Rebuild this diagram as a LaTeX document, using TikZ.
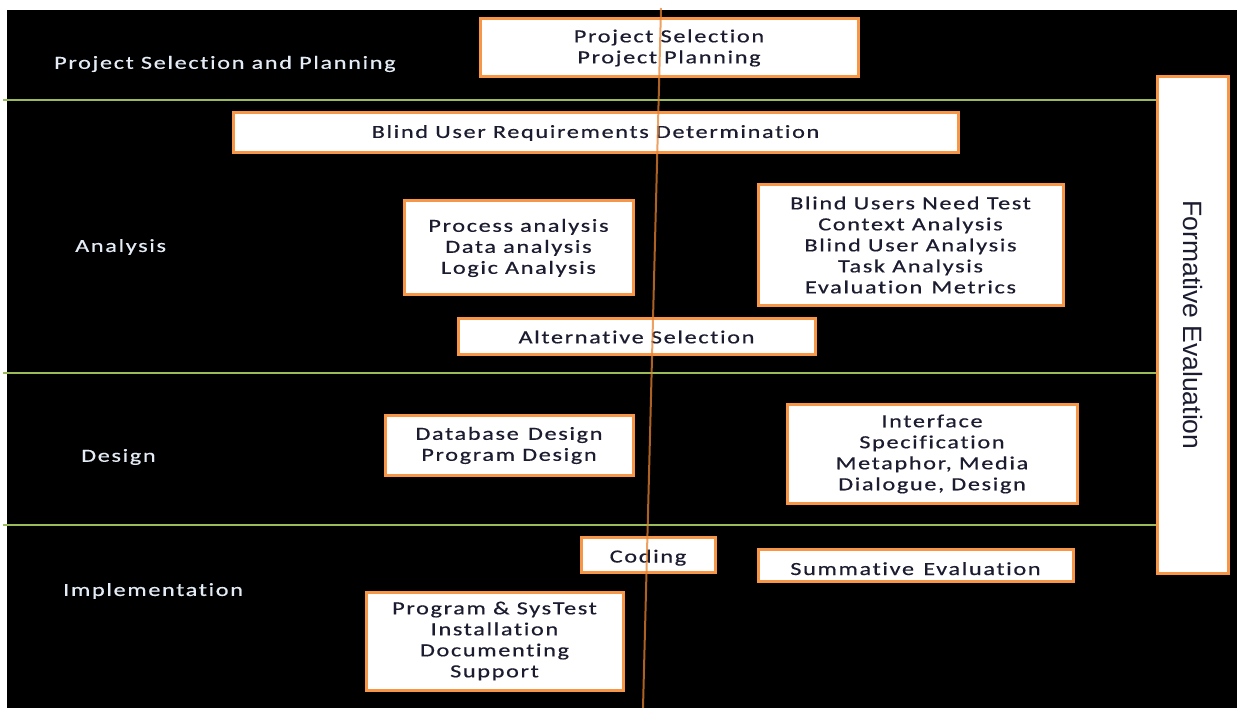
\documentclass[tikz,border=0pt]{standalone}
\usepackage{fontspec}
\setmainfont{Carlito}[LetterSpace=9, FakeStretch=1.31, FakeBold=0.5, Ligatures=NoCommon]
\newfontfamily\arialfont{Liberation Sans}
\definecolor{boxorange}{HTML}{F79646}
\definecolor{lanegreen}{HTML}{9BBB59}
\definecolor{axisorange}{HTML}{E8822F}
\definecolor{boxtext}{HTML}{1C1C30}
\definecolor{labeltext}{HTML}{E4ECF6}
\begin{document}
\begin{tikzpicture}[x=1pt,y=-1pt,
  box/.style={draw=boxorange, line width=3pt, fill=white, inner sep=0pt,
    align=center, text=boxtext, font=\fontsize{18.5}{21}\selectfont},
  lanelabel/.style={text=labeltext, anchor=west, inner sep=0pt,
    font=\fontsize{18.5}{21}\selectfont},
  laneline/.style={draw=lanegreen, line width=2pt},
  axisline/.style={draw=axisorange, line width=2pt, opacity=0.75}]
\useasboundingbox (0,0) rectangle (1240,708);
\fill[white] (0,0) rectangle (1240,708);
\fill[black] (7,10) rectangle (1237,708);

% formative evaluation column
\node[box, minimum width=71pt, minimum height=496pt] (fe) at (1192.5,325) {};
\node[rotate=-90, text=boxtext, font=\arialfont\fontsize{26.5}{28}\selectfont, inner sep=0pt] (fetext) at (fe.center) {Formative Evaluation};

% lane separators
\coordinate (g1) at (3,100);
\coordinate (g2) at (3,373);
\coordinate (g3) at (3,525);
\draw[laneline] (g1) -- (g1 -| fe.west);
\draw[laneline] (g2) -- (g2 -| fe.west);
\draw[laneline] (g3) -- (g3 -| fe.west);

% lane labels
\node[lanelabel] (l1) at (54,64) {Project Selection and Planning};
\node[lanelabel] (l2) at (75,247) {Analysis};
\node[lanelabel] (l3) at (81,457) {Design};
\node[lanelabel] (l4) at (63,591) {Implementation};

% boxes
\node[box, minimum width=378pt, minimum height=58pt] (ps) at (669,48) {Project Selection\\Project Planning};
\node[box, minimum width=725pt, minimum height=40pt] (bur) at (595.5,133) {Blind User Requirements Determination};
\node[box, minimum width=229pt, minimum height=94pt] (pa) at (518.5,248) {Process analysis\\Data analysis\\Logic Analysis};
\node[box, minimum width=305pt, minimum height=121pt] (bun) at (910.5,245) {Blind Users Need Test\\Context Analysis\\Blind User Analysis\\Task Analysis\\Evaluation\hspace{0.5em}Metrics};
\node[box, minimum width=357pt, minimum height=36pt] (alt) at (636.5,337) {Alternative Selection};
\node[box, minimum width=248pt, minimum height=59pt] (db) at (509,445.5) {Database\hspace{0.5em}Design\\Program Design};
\node[box, minimum width=290pt, minimum height=98pt] (ui) at (932,454) {Interface\\Specification\\Metaphor, Media\\Dialogue, Design};
\node[box, minimum width=134pt, minimum height=35pt, text height=20pt, text depth=4pt] (cod) at (648,554.5) {Coding};
\node[box, minimum width=315pt, minimum height=32pt, text height=22pt, text depth=2pt] (se) at (915.5,565) {Summative\hspace{0.5em}Evaluation};
\node[box, minimum width=257pt, minimum height=98pt] (pst) at (494.5,641) {Program \& SysTest\\Installation\\Documenting\\Support};

% vertical axis line
\coordinate (axtop) at (661,8);
\coordinate (axbot) at (643,708);
\draw[axisline] (axtop) -- (axbot);
\end{tikzpicture}
\end{document}
